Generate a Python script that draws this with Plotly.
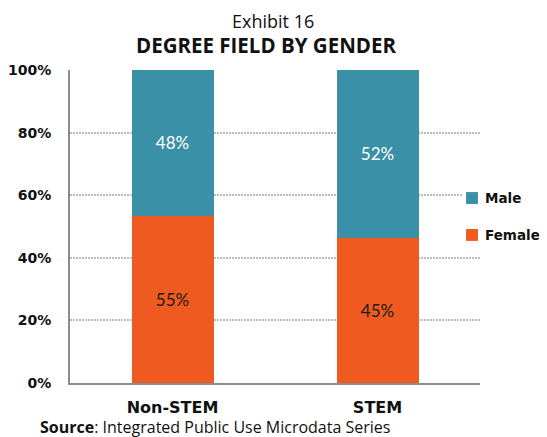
import plotly.graph_objects as go

categories = ["Non-STEM", "STEM"]
female = [55, 45]
male = [48, 52]
series_names = ["Male", "Female"]
series_colors = ["#3A90A6", "#EF5A21"]
y_ticks = [0, 20, 40, 60, 80, 100]
y_tick_labels = ["0%", "20%", "40%", "60%", "80%", "100%"]

fig = go.Figure()
fig.add_trace(go.Bar(
    x=categories, y=female, name="Female",
    marker=dict(color=series_colors[1], line=dict(width=0)),
    text=[f"{v}%" for v in female], textposition="inside",
    insidetextanchor="middle", textangle=0,
    textfont=dict(color="#1a1a1a", size=17, family="Lato"),
    width=0.4,
))
fig.add_trace(go.Bar(
    x=categories, y=male, name="Male",
    marker=dict(color=series_colors[0], line=dict(width=0)),
    text=[f"{v}%" for v in male], textposition="inside",
    insidetextanchor="middle", textangle=0,
    textfont=dict(color="white", size=17, family="Lato"),
    width=0.4,
))

# manual legend (keys + labels), in paper coordinates
legend_rows_y = [0.591, 0.473]
shapes = [dict(type="rect", xref="paper", yref="paper",
               x0=0.956, x1=1.005, y0=0.441, y1=0.633,
               fillcolor="white", line=dict(width=0), layer="above")]
annotations = []
for name, color, yc in zip(series_names, series_colors, legend_rows_y):
    shapes.append(dict(type="rect", xref="paper", yref="paper",
                       x0=0.966, x1=0.995, y0=yc - 0.019, y1=yc + 0.019,
                       fillcolor=color, line=dict(width=0), layer="above"))
    annotations.append(dict(text=f"<b>{name}</b>", x=1.008, y=yc,
                            xref="paper", yref="paper", xanchor="left", yanchor="middle",
                            showarrow=False,
                            font=dict(family="DejaVu Sans", size=13.5, color="#111")))

annotations += [
    dict(text="Exhibit 16", x=0.496, y=1.158, xref="paper", yref="paper",
         xanchor="center", yanchor="middle", showarrow=False,
         font=dict(family="Open Sans", size=18, color="#111")),
    dict(text="<b>DEGREE FIELD BY GENDER</b>", x=0.479, y=1.079, xref="paper", yref="paper",
         xanchor="center", yanchor="middle", showarrow=False,
         font=dict(family="Open Sans", size=20.5, color="#111")),
    dict(text="<b>Source</b>: Integrated Public Use Microdata Series",
         x=-0.079, y=-0.141, xref="paper", yref="paper",
         xanchor="left", yanchor="middle", showarrow=False,
         font=dict(family="Open Sans", size=16, color="#111")),
]

fig.update_layout(
    width=547, height=437,
    barmode="stack", barnorm="percent",
    paper_bgcolor="white", plot_bgcolor="white",
    margin=dict(l=61.5, r=75, t=62, b=62, autoexpand=False),
    showlegend=False,
    xaxis=dict(
        range=[-0.5, 1.5], automargin=False,
        showline=True, linecolor="#8c8c8c", linewidth=2,
        ticks="", showgrid=False,
        tickfont=dict(family="DejaVu Sans", size=16, color="#111"),
        tickvals=categories,
        ticktext=[f"<b>{c}</b>" for c in categories],
        ticklabelstandoff=9,
    ),
    yaxis=dict(
        range=[0, 100], automargin=False,
        tickvals=y_ticks,
        ticktext=[f"<b>{t}</b>" for t in y_tick_labels],
        tickfont=dict(family="DejaVu Sans", size=14, color="#111"),
        showline=True, linecolor="#8c8c8c", linewidth=2,
        showgrid=True, gridcolor="#bdbdbd", griddash="2px,1px", gridwidth=1.5,
        zeroline=False, ticks="",
        ticklabelstandoff=14,
    ),
    shapes=shapes,
    annotations=annotations,
)

fig.write_html("out.html")
